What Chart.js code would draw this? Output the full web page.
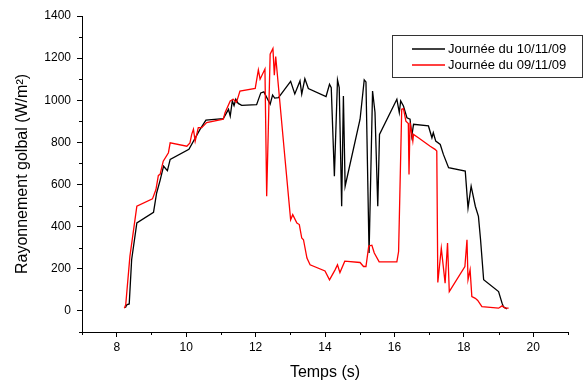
<!DOCTYPE html>
<html>
<head>
<meta charset="utf-8">
<script src="https://cdn.jsdelivr.net/npm/chart.js@4.4.0/dist/chart.umd.min.js"></script>
<style>
  html, body { margin: 0; padding: 0; background: #fff; }
  #wrap { width: 583px; height: 383px; }
</style>
</head>
<body>
<div id="wrap"><canvas id="chart" width="583" height="383"></canvas></div>
<script>
const FONT = '"Liberation Sans", Arial, sans-serif';

// Journée du 10/11/09 (black)
const timeBlack = [8.25, 8.29, 8.36, 8.43, 8.58, 9.06, 9.15, 9.25, 9.35, 9.46, 9.54, 10.08, 10.40, 10.57,
    11.07, 11.22, 11.27, 11.33, 11.38, 11.43, 11.50, 11.60, 12.03, 12.15, 12.24, 12.42, 12.49, 12.55, 12.66,
    13.01, 13.13, 13.28, 13.33, 13.42, 13.52, 14.03, 14.13, 14.18, 14.27, 14.36, 14.41, 14.48, 14.53, 14.58,
    15.01, 15.13, 15.18, 15.27, 15.37, 15.44, 15.52, 15.57, 16.07, 16.14, 16.18, 16.26, 16.36, 16.45, 16.50,
    16.55, 16.98, 17.08, 17.12, 17.19, 17.32, 17.41, 17.56, 18.04, 18.12, 18.21, 18.33, 18.42, 18.48, 18.57,
    19.00, 19.10, 19.14, 19.24];
const valBlack = [15, 29, 33, 243, 418, 468, 560, 620, 687, 666, 719, 767, 862, 906,
    913, 957, 925, 997, 975, 1005, 985, 976, 979, 1035, 1040, 981, 1025, 1010, 1013,
    1090, 1030, 1092, 1029, 1102, 1056, 1018, 1076, 1060, 640, 1097, 1060, 497, 1020, 592,
    910, 1097, 1087, 275, 1044, 943, 497, 838, 1005, 941, 997, 973, 917, 910, 830,
    886, 878, 822, 846, 806, 790, 743, 680, 664, 489, 592, 497, 449, 340, 148,
    92, 37, 20, 10];

// Journée du 09/11/09 (red)
const timeRed = [8.22, 8.26, 8.38, 8.58, 9.03, 9.13, 9.20, 9.25, 9.34, 9.49, 9.54, 10.02, 10.11, 10.16,
    10.21, 10.26, 10.35, 10.45, 10.59, 11.07, 11.12, 11.27, 11.36, 11.45, 11.55, 11.99, 12.08, 12.13,
    12.27, 12.32, 12.42, 12.50, 12.54, 12.58, 12.85, 13.01, 13.07, 13.19, 13.26, 13.33, 13.38, 13.48,
    13.57, 14.00, 14.13, 14.29, 14.36, 14.43, 14.57, 15.01, 15.11, 15.18, 15.26, 15.35, 15.42, 15.56,
    16.07, 16.12, 16.21, 16.26, 16.33, 16.40, 16.42, 16.45, 16.53, 16.55, 16.69, 17.03, 17.17, 17.22,
    17.25, 17.35, 17.46, 17.53, 17.58, 18.03, 18.09, 18.12, 18.18, 18.23, 18.33, 18.40, 18.52, 19.00,
    19.10, 19.19, 19.29];
const valRed = [13, 30, 259, 497, 532, 576, 643, 648, 711, 751, 798, 782, 798, 838,
    862, 806, 870, 870, 894, 910, 941, 997, 1005, 990, 1044, 1056, 1144, 1100,
    1148, 544, 1219, 1246, 1119, 1208, 719, 433, 457, 417, 410, 346, 338, 251,
    219, 190, 148, 195, 219, 182, 236, 230, 211, 211, 308, 312, 275, 233,
    233, 282, 957, 960, 901, 890, 648, 894, 806, 838, 822, 782, 767, 759,
    135, 298, 132, 322, 92, 211, 338, 148, 195, 68, 60, 50, 20, 13,
    24, 13, 13];

const xTicks = [8, 10, 12, 14, 16, 18, 20];
const xMinor = [7, 9, 11, 13, 15, 17, 19, 21];
const yTicks = [0, 200, 400, 600, 800, 1000, 1200, 1400];
const yMinor = [-100, 100, 300, 500, 700, 900, 1100, 1300];

const toPoints = (xs, ys) => xs.map((x, i) => ({x: x, y: ys[i]}));

// minor ticks (shorter, outward) + boxed legend inside the plot
const extras = {
    id: 'extras',
    afterDraw(chart) {
        const ctx = chart.ctx;
        const xs = chart.scales.x, ys = chart.scales.y;
        const area = chart.chartArea;
        ctx.save();
        ctx.strokeStyle = '#000';
        ctx.lineWidth = 1;
        ctx.beginPath();
        xMinor.forEach(v => {
            const px = Math.round(xs.getPixelForValue(v)) + 0.5;
            ctx.moveTo(px, area.bottom);
            ctx.lineTo(px, area.bottom + 3);
        });
        yMinor.forEach(v => {
            const py = Math.round(ys.getPixelForValue(v)) + 0.5;
            ctx.moveTo(area.left, py);
            ctx.lineTo(area.left - 3, py);
        });
        ctx.stroke();

        // legend
        const bx = 392.5, by = 35.5, bw = 190, bh = 42;
        ctx.strokeStyle = '#333';
        ctx.strokeRect(bx, by, bw, bh);
        ctx.font = '13px ' + FONT;
        ctx.textBaseline = 'middle';
        ctx.fillStyle = '#000';
        chart.data.datasets.forEach((ds, i) => {
            const ly = 49 + i * 16;
            ctx.strokeStyle = ds.borderColor;
            ctx.lineWidth = 1.6;
            ctx.beginPath();
            ctx.moveTo(412, ly);
            ctx.lineTo(445, ly);
            ctx.stroke();
            ctx.fillText(ds.label, 448, ly);
        });
        ctx.restore();
    }
};

new Chart(document.getElementById('chart'), {
    type: 'line',
    data: {
        datasets: [
            {label: 'Journée du 10/11/09', data: toPoints(timeBlack, valBlack), borderColor: '#000000',
             borderWidth: 1.3, pointRadius: 0, tension: 0, fill: false, order: 1},
            {label: 'Journée du 09/11/09', data: toPoints(timeRed, valRed), borderColor: '#ff0000',
             borderWidth: 1.3, pointRadius: 0, tension: 0, fill: false, order: 0}
        ]
    },
    options: {
        responsive: false,
        animation: false,
        layout: {padding: {top: 16, right: 15, left: 0, bottom: 0}},
        plugins: {legend: {display: false}, tooltip: {enabled: false}},
        scales: {
            x: {
                type: 'linear', min: 7, max: 21,
                afterBuildTicks: s => { s.ticks = xTicks.map(v => ({value: v})); },
                afterFit: s => { s.height = 51; },
                grid: {drawOnChartArea: false, drawTicks: true, tickLength: 5, color: '#000'},
                border: {color: '#000', width: 1},
                ticks: {color: '#000', font: {size: 12, family: FONT}, padding: 3, maxRotation: 0, autoSkip: false,
                        callback: v => String(v)},
                title: {display: true, text: 'Temps (s)', color: '#000', font: {size: 16, family: FONT}, padding: {top: 0, bottom: 1}}
            },
            y: {
                min: -100, max: 1400,
                afterBuildTicks: s => { s.ticks = yTicks.map(v => ({value: v})); },
                afterFit: s => { s.width = 82; },
                grid: {drawOnChartArea: false, drawTicks: true, tickLength: 5, color: '#000'},
                border: {color: '#000', width: 1},
                ticks: {color: '#000', font: {size: 12, family: FONT}, padding: 6, autoSkip: false,
                        callback: v => String(v)},
                title: {display: true, text: 'Rayonnement golbal (W/m²)', color: '#000', font: {size: 16, family: FONT}, padding: {top: 13, bottom: 0}}
            }
        }
    },
    plugins: [extras]
});
</script>
</body>
</html>
